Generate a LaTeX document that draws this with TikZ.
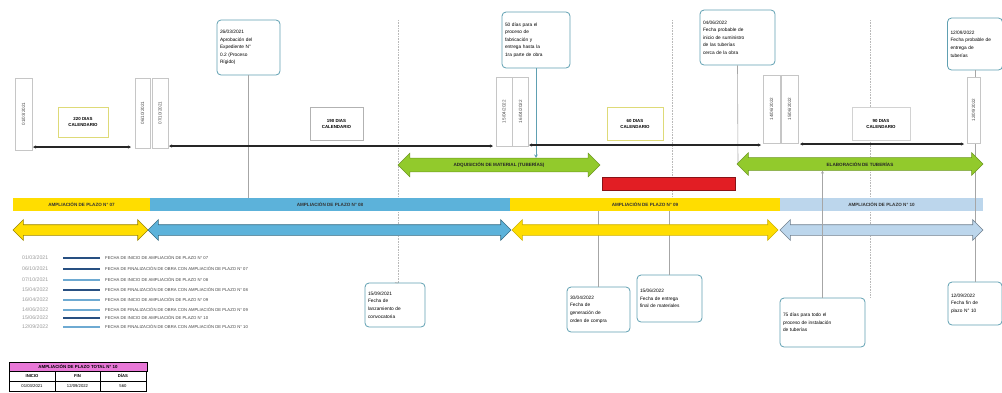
\documentclass[tikz,border=0pt]{standalone}
\usepackage{fontspec}
\setmainfont{Liberation Sans}
\usetikzlibrary{shapes.arrows,arrows.meta}
\definecolor{yel}{RGB}{255,221,0}
\definecolor{blu}{RGB}{92,178,218}
\definecolor{lblu}{RGB}{188,214,236}
\definecolor{grn}{RGB}{146,202,44}
\definecolor{redbar}{RGB}{226,30,36}
\definecolor{calbord}{RGB}{96,160,178}
\definecolor{olivebord}{RGB}{222,218,120}
\definecolor{navyline}{RGB}{40,80,130}
\definecolor{lightline}{RGB}{110,170,210}
\definecolor{pinkhead}{RGB}{232,120,215}
\begin{document}
\begin{tikzpicture}[x=1pt,y=-1pt,
  datebox/.style={draw=gray!45, fill=white, rotate=90, inner sep=0, font=\fontsize{4.6}{5}\selectfont, text=black!70},
  calbox/.style={draw=gray!60, line width=0.9, fill=white, align=center, inner sep=0, font=\bfseries\fontsize{4.4}{6}\selectfont},
  callout/.style={draw=calbord, line width=0.8, rounded corners=4, fill=white, align=left, inner sep=3, font=\fontsize{4.8}{7.6}\selectfont},
  bar/.style={inner sep=0, minimum height=13, font=\bfseries\fontsize{4.6}{5}\selectfont, text=black!80},
  darrow/.style={double arrow, double arrow head extend=5, double arrow tip angle=90, inner xsep=0, inner ysep=5, line width=0.6},
  garrow/.style={double arrow, double arrow head extend=5, double arrow tip angle=90, inner xsep=0, inner ysep=4, fill=grn, draw=grn!75!black, line width=0.5, font=\bfseries\fontsize{4.6}{5}\selectfont, text=black!85},
  tl/.style={line width=1.3, black!85, {Stealth[length=3pt,width=3pt]}-{Stealth[length=3pt,width=3pt]}},
  cline/.style={draw=gray!70, line width=0.6},
  dline/.style={draw=gray!55, line width=0.6, densely dotted},
  legline/.style={line width=1.1},
  legtext/.style={anchor=west, inner sep=0, font=\fontsize{4.2}{5}\selectfont}
]
\useasboundingbox (0,0) rectangle (1002,392);

% dotted guide lines
\coordinate (g1a) at (398,20); \coordinate (g1b) at (398,283);
\coordinate (g2a) at (672,20); \coordinate (g2b) at (672,198);
\coordinate (g3a) at (870,20); \coordinate (g3b) at (870,298);
\draw[dline] (g1a) -- (g1b);
\draw[dline] (g2a) -- (g2b);
\draw[dline] (g3a) -- (g3b);

% top callouts
\node[callout, text width=57, minimum height=55] (c1) at (248.5,47.5) {26/03/2021\\Aprobación del\\Expediente N°\\0.2 (Proceso\\Rígido)};
\node[callout, text width=62, minimum height=56] (c2) at (536,40) {50 días para el\\proceso de\\fabricación y\\entrega hasta la\\1ra parte de obra};
\node[callout, text width=69, minimum height=55] (c3) at (737.5,37.5) {04/06/2022\\Fecha probable de\\inicio de suministro\\de las tuberías\\cerca de la obra};
\node[callout, text width=49, minimum height=52] (c4) at (975,44) {12/09/2022\\Fecha probable de\\entrega de\\tuberías};

% bottom callouts
\node[callout, text width=54, minimum height=44] (cA) at (395,305) {15/09/2021\\Fecha de\\lanzamiento de\\convocatoria};
\node[callout, text width=57, minimum height=45] (cB) at (598.5,309.5) {30/04/2022\\Fecha de\\generación de\\orden de compra};
\node[callout, text width=59, minimum height=47] (cC) at (669.5,298.5) {15/06/2022\\Fecha de entrega\\final de materiales};
\node[callout, text width=79, minimum height=49] (cD) at (822.5,322.5) {75 días para todo el\\proceso de instalación\\de tuberías};
\node[callout, text width=48, minimum height=43] (cE) at (975,303.5) {12/09/2022\\Fecha fin de\\plazo N° 10};

% bars
\node[bar, fill=yel, minimum width=137] (b7) at (81.5,204.5) {AMPLIACIÓN DE PLAZO N° 07};
\node[bar, fill=blu, minimum width=360] (b8) at (330,204.5) {AMPLIACIÓN DE PLAZO N° 08};
\node[bar, fill=yel, minimum width=270] (b9) at (645,204.5) {AMPLIACIÓN DE PLAZO N° 09};
\node[bar, fill=lblu, minimum width=203] (b10) at (881.5,204.5) {AMPLIACIÓN DE PLAZO N° 10};

% callout connectors
\coordinate (k1) at (c1.south |- b8.north);
\draw[cline] (c1.south) -- (k1);
\coordinate (k3) at (738,165);
\draw[cline] (c3.south) -- (k3);
\draw[cline] (c4.south) -- (cE.north);
\coordinate (kB) at (cB.north |- b9.south);
\draw[cline] (kB) -- (cB.north);
\coordinate (kC) at (cC.north |- b9.south);
\draw[cline] (kC) -- (cC.north);
\draw[cline] (g1b) -- (cA.north);

% double arrows
\node[darrow, fill=yel, draw=yel!60!black, minimum height=135] (a7) at (80.5,230) {};
\node[darrow, fill=blu, draw=blu!60!black, minimum height=363] (a8) at (329.5,230) {};
\node[darrow, fill=yel, draw=yel!80!black, minimum height=266] (a9) at (645,230) {};
\node[darrow, fill=lblu, draw=lblu!60!black, minimum height=203] (a10) at (881.5,230) {};

% green arrows and red bar
\node[garrow, minimum height=202] (gA) at (499,165) {ADQUISICIÓN DE MATERIAL (TUBERÍAS)};
\node[garrow, minimum height=246] (gB) at (860,164) {ELABORACIÓN DE TUBERÍAS};
\node[fill=redbar, draw=redbar!60!black, line width=0.6, minimum width=133, minimum height=13, inner sep=0] (rb) at (668.5,183.5) {};

\draw[draw=calbord, line width=0.8, -{Stealth[length=3.5pt,width=3.5pt]}] (c2.south) -- (gA.north -| c2.south);
\draw[cline, -{Stealth[length=3pt,width=3pt]}] (cD.north) -- (cD.north |- gB.south);

% top timeline
\node[datebox, minimum width=72, minimum height=17] (d1) at (23.5,114) {01/03/2021};
\node[datebox, minimum width=70, minimum height=15] (d2) at (142.5,113) {06/10/2021};
\node[datebox, minimum width=70, minimum height=16] (d3) at (160,113) {07/10/2021};
\node[datebox, minimum width=69, minimum height=16] (d4) at (504,111.5) {15/04/2022};
\node[datebox, minimum width=69, minimum height=16] (d5) at (520.5,111.5) {16/04/2022};
\node[datebox, minimum width=68, minimum height=17] (d6) at (771.5,109) {14/06/2022};
\node[datebox, minimum width=68, minimum height=17] (d7) at (789.5,109) {15/06/2022};
\node[datebox, minimum width=66, minimum height=13] (d8) at (973.5,110) {12/09/2022};

\node[calbox, draw=olivebord, minimum width=50, minimum height=30] (k1box) at (83,122) {220 DIAS\\CALENDARIO};
\node[calbox, minimum width=53, minimum height=33] (k2box) at (336.5,124) {190 DIAS\\CALENDARIO};
\node[calbox, draw=olivebord, minimum width=56, minimum height=33] (k3box) at (635,123.5) {60 DIAS\\CALENDARIO};
\node[calbox, draw=gray!35, minimum width=58, minimum height=33] (k4box) at (881,123.5) {90 DIAS\\CALENDARIO};

\coordinate (t1a) at (33,147); \coordinate (t1b) at (131,147);
\coordinate (t2a) at (169,146); \coordinate (t2b) at (493,146);
\coordinate (t3a) at (529,145); \coordinate (t3b) at (761,145);
\coordinate (t4a) at (800,144); \coordinate (t4b) at (964,144);
\draw[tl] (t1a) -- (t1b);
\draw[tl] (t2a) -- (t2b);
\draw[tl] (t3a) -- (t3b);
\draw[tl] (t4a) -- (t4b);

% legend
\foreach \y/\d/\t/\c [count=\i] in {
 258/{01/03/2021}/FECHA DE INICIO DE AMPLIACIÓN DE PLAZO N° 07/navyline,
 269/{06/10/2021}/FECHA DE FINALIZACIÓN DE OBRA CON AMPLIACIÓN DE PLAZO N° 07/navyline,
 280/{07/10/2021}/FECHA DE INICIO DE AMPLIACIÓN DE PLAZO N° 08/lightline,
 290/{15/04/2022}/FECHA DE FINALIZACIÓN DE OBRA CON AMPLIACIÓN DE PLAZO N° 08/navyline,
 300/{16/04/2022}/FECHA DE INICIO DE AMPLIACIÓN DE PLAZO N° 09/lightline,
 310/{14/06/2022}/FECHA DE FINALIZACIÓN DE OBRA CON AMPLIACIÓN DE PLAZO N° 09/lightline,
 318/{15/06/2022}/FECHA DE INICIO DE AMPLIACIÓN DE PLAZO N° 10/navyline,
 327/{12/09/2022}/FECHA DE FINALIZACIÓN DE OBRA CON AMPLIACIÓN DE PLAZO N° 10/lightline}
{
  \node[legtext, text=gray!80, font=\fontsize{5.2}{6}\selectfont] (ld\i) at (22,\y) {\d};
  \coordinate (la\i) at (63,\y); \coordinate (lb\i) at (100,\y);
  \draw[legline, \c] (la\i) -- (lb\i);
  \node[legtext, text=black!75] (lt\i) at (105,\y) {\t};
}

% table
\node[draw=black, fill=pinkhead, minimum width=138, minimum height=9, inner sep=0, font=\bfseries\fontsize{4.4}{5}\selectfont] (th) at (78,366.5) {AMPLIACIÓN DE PLAZO TOTAL N° 10};
\foreach \x/\w/\txt/\n in {32/46/INICIO/h1, 77.5/45/FIN/h2, 123/46/DÍAS/h3}
  \node[draw=black, fill=white, minimum width=\w, minimum height=10, inner sep=0, font=\bfseries\fontsize{4.2}{5}\selectfont] (\n) at (\x,376) {\txt};
\foreach \x/\w/\txt/\n in {32/46/{01/03/2021}/r1, 77.5/45/{12/09/2022}/r2, 123/46/560/r3}
  \node[draw=black, fill=white, minimum width=\w, minimum height=10, inner sep=0, font=\fontsize{4.2}{5}\selectfont] (\n) at (\x,386) {\txt};
\end{tikzpicture}
\end{document}
